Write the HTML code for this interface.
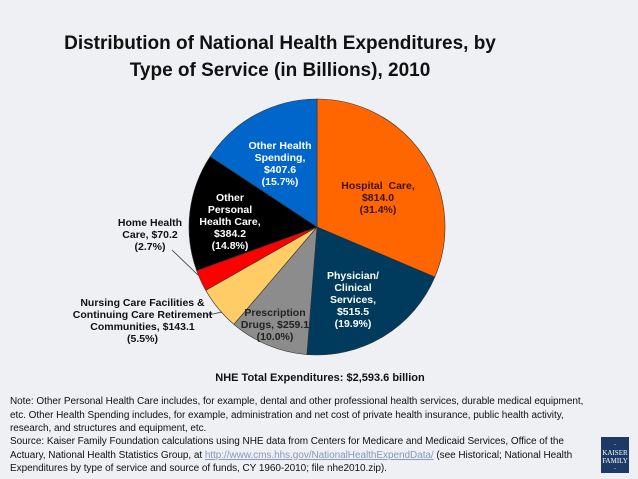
<!DOCTYPE html>
<html><head><meta charset="utf-8"><style>
body{margin:0;width:638px;height:479px;background:#eef0f4;font-family:"Liberation Sans",sans-serif;overflow:hidden;position:relative}
.t{position:absolute;text-align:center;font-weight:bold;font-size:10.5px;line-height:12px}
.note{position:absolute;left:10px;width:620px;white-space:nowrap;font-family:"Liberation Sans",sans-serif;font-size:10px;line-height:13.5px;color:#111;letter-spacing:-0.05px}
</style></head><body>
<div style="position:absolute;left:0;top:30px;width:560px;text-align:center;font-weight:bold;font-size:19px;line-height:27px;color:#111">Distribution of National Health Expenditures, by<br>Type of Service (in Billions), 2010</div>
<svg id="pie" width="638" height="479" style="position:absolute;left:0;top:0"></svg>
<div class="t" style="left:318px;top:180px;width:120px;color:#3a1400">Hospital&nbsp; Care,<br>$814.0<br>(31.4%)</div>
<div class="t" style="left:293px;top:270px;width:120px;color:#fff">Physician/<br>Clinical<br>Services,<br>$515.5<br>(19.9%)</div>
<div class="t" style="left:215px;top:307px;width:120px;color:#222">Prescription<br>Drugs, $259.1<br>(10.0%)</div>
<div class="t" style="left:220px;top:140px;width:120px;color:#fff">Other Health<br>Spending,<br>$407.6<br>(15.7%)</div>
<div class="t" style="left:180px;top:192px;width:100px;color:#fff">Other<br>Personal<br>Health Care,<br>$384.2<br>(14.8%)</div>
<div class="t" style="left:100px;top:217px;width:100px;color:#111">Home Health<br>Care, $70.2<br>(2.7%)</div>
<div class="t" style="left:50px;top:297px;width:185px;color:#111">Nursing Care Facilities &amp;<br>Continuing Care Retirement<br>Communities, $143.1<br>(5.5%)</div>
<div class="t" style="left:120px;top:372px;width:400px;font-size:11px;color:#111">NHE Total Expenditures: $2,593.6 billion</div>
<div class="note" style="top:395px">Note: Other Personal Health Care includes, for example, dental and other professional health services, durable medical equipment,<br>etc. Other Health Spending includes, for example, administration and net cost of private health insurance, public health activity,<br>research, and structures and equipment, etc.</div>
<div class="note" style="top:435px">Source: Kaiser Family Foundation calculations using NHE data from Centers for Medicare and Medicaid Services, Office of the<br>Actuary, National Health Statistics Group, at <span style="color:#8899bb;text-decoration:underline">http://www.cms.hhs.gov/NationalHealthExpendData/</span> (see Historical; National Health<br>Expenditures by type of service and source of funds, CY 1960-2010; file nhe2010.zip).</div>
<div style="position:absolute;left:601px;top:437px;width:28px;height:36px;background:#1d3a66;color:#fff;font-family:'Liberation Serif',serif;font-size:7px;line-height:8px;text-align:center;padding-top:4px;box-sizing:border-box">·<br>KAISER<br>FAMILY<br>·</div>
<script>
const categories=["Hospital Care","Physician/Clinical Services","Prescription Drugs","Nursing Care Facilities","Home Health Care","Other Personal Health Care","Other Health Spending"];
const values=[814.0,515.5,259.1,143.1,70.2,384.2,407.6];
const colors=["#ff6600","#003a5c","#8c8c8c","#ffcc66","#ff0000","#000000","#0066cc"];
const svg=document.getElementById('pie');
const cx=317,cy=227,r=128;
const total=values.reduce((a,b)=>a+b,0);
let a=-Math.PI/2;
values.forEach((v,i)=>{
  const a2=a+v/total*2*Math.PI;
  const x1=cx+r*Math.cos(a),y1=cy+r*Math.sin(a),x2=cx+r*Math.cos(a2),y2=cy+r*Math.sin(a2);
  const p=document.createElementNS('http://www.w3.org/2000/svg','path');
  p.setAttribute('d',`M${cx},${cy}L${x1},${y1}A${r},${r} 0 ${a2-a>Math.PI?1:0} 1 ${x2},${y2}Z`);
  p.setAttribute('fill',colors[i]);p.setAttribute('stroke','#333');p.setAttribute('stroke-width','0.6');
  
  
  svg.appendChild(p);a=a2;
});
[[172,250,198,275],[208,315,222,312]].forEach(l=>{
  const ln=document.createElementNS('http://www.w3.org/2000/svg','line');
  ln.setAttribute('x1',l[0]);ln.setAttribute('y1',l[1]);ln.setAttribute('x2',l[2]);ln.setAttribute('y2',l[3]);
  ln.setAttribute('stroke','#333');ln.setAttribute('stroke-width','0.8');
  
  
  svg.appendChild(ln);
});
</script>
</body></html>
